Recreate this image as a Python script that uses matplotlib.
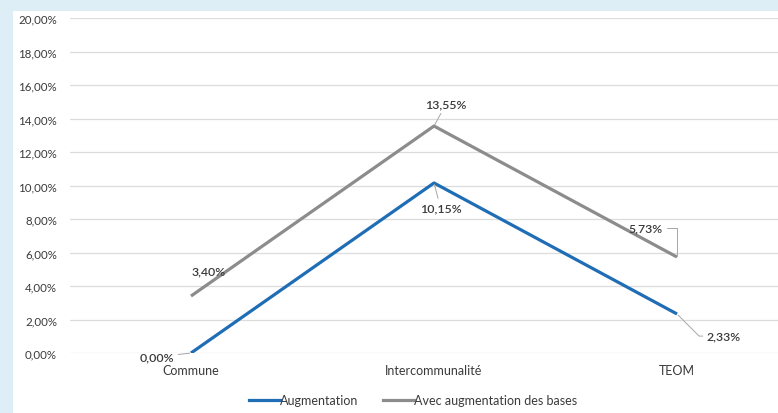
import matplotlib.pyplot as plt
from matplotlib.patches import Rectangle
from matplotlib.lines import Line2D

# data
categories = ['Commune', 'Intercommunalité', 'TEOM']
augmentation = [0.00, 10.15, 2.33]
avec_bases = [3.40, 13.55, 5.73]
yticks = [0, 2, 4, 6, 8, 10, 12, 14, 16, 18, 20]

blue = '#1F6DB5'
gray = '#8C8C8C'
txt = '#3A3A3A'

plt.rcParams['font.family'] = ['Lato', 'DejaVu Sans']

fig = plt.figure(figsize=(7.78, 4.14), dpi=100)
fig.patch.set_facecolor('#DDEEF7')
fig.patches.append(Rectangle((13/778, 0), 1, 1 - 12/414, transform=fig.transFigure,
                             facecolor='white', edgecolor='none', zorder=-5))

ax = fig.add_axes([69.5/778, 1 - 354/414, (778 - 69.5)/778, (354 - 19)/414])
ax.set_facecolor('none')
x = list(range(len(categories)))
ax.plot(x, augmentation, color=blue, lw=2.3, solid_capstyle='butt', zorder=3)
ax.plot(x, avec_bases, color=gray, lw=2.3, solid_capstyle='butt', zorder=3)

ax.set_xlim(-0.5, (778 - 69.5)/243 - 0.5)
ax.set_ylim(0, 20)
ax.set_yticks(yticks)
ax.set_yticklabels(['%d,00%%' % v for v in yticks], fontsize=8.3, color=txt)
ax.set_xticks(x)
ax.set_xticklabels(categories, fontsize=9.0, color=txt)
ax.tick_params(axis='both', length=0)
ax.tick_params(axis='x', pad=8)
ax.tick_params(axis='y', pad=9)
ax.grid(axis='y', color='#DCDCDC', lw=0.9)
ax.set_axisbelow(True)
for s in ax.spines.values():
    s.set_visible(False)

def fmt(v):
    return ('%.2f%%' % v).replace('.', ',')

lead = dict(arrowstyle='-', color='#A6A6A6', lw=0.7, shrinkA=1, shrinkB=1)
kw = dict(fontsize=8.8, color=txt, fontweight='semibold', annotation_clip=False)

ax.annotate(fmt(augmentation[0]), (0, augmentation[0]), xytext=(-0.07, -0.24),
            ha='right', va='center', arrowprops=lead, **kw)
ax.annotate(fmt(avec_bases[0]), (0, avec_bases[0]), xytext=(0.072, 4.91),
            ha='center', va='center', **kw)
ax.annotate(fmt(avec_bases[1]), (1, avec_bases[1]), xytext=(1.05, 14.87),
            ha='center', va='center', arrowprops=lead, **kw)
ax.annotate(fmt(augmentation[1]), (1, augmentation[1]), xytext=(1.027, 8.66),
            ha='center', va='center', arrowprops=lead, **kw)
ax.annotate(fmt(avec_bases[2]), (2, avec_bases[2]), xytext=(1.942, 7.46),
            ha='right', va='center',
            arrowprops=dict(lead, connectionstyle='angle,angleA=0,angleB=90,rad=0'), **kw)
ax.annotate(fmt(augmentation[2]), (2, augmentation[2]), xytext=(2.123, 1.01),
            ha='left', va='center',
            arrowprops=dict(lead, connectionstyle='angle,angleA=0,angleB=135,rad=0'), **kw)

handles = [Line2D([], [], color=blue, lw=2.3), Line2D([], [], color=gray, lw=2.3)]
fig.legend(handles, ['Augmentation', 'Avec augmentation des bases'],
           loc='center', bbox_to_anchor=(413/778, 1 - 401/414), ncol=2, frameon=False,
           fontsize=9.0, handlelength=2.5, handletextpad=0.05, columnspacing=1.9,
           labelcolor=txt)

fig.savefig('out.png', dpi=100, facecolor=fig.get_facecolor())
